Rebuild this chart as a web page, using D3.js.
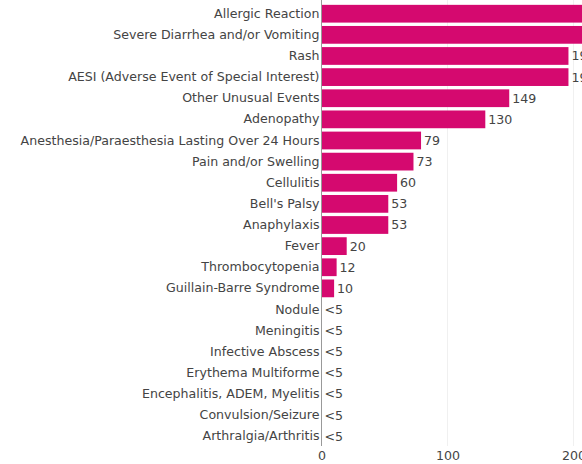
<!DOCTYPE html>
<html>
<head>
<meta charset="utf-8">
<script src="https://cdn.jsdelivr.net/npm/d3@7"></script>
<style>
  body { margin: 0; background: #fff; }
  svg { display: block; font-family: "DejaVu Sans", Verdana, sans-serif; }
</style>
</head>
<body>
<div id="chart"></div>
<script>
// categories, top to bottom
var categories = [
    "Allergic Reaction",
    "Severe Diarrhea and/or Vomiting",
    "Rash",
    "AESI (Adverse Event of Special Interest)",
    "Other Unusual Events",
    "Adenopathy",
    "Anesthesia/Paraesthesia Lasting Over 24 Hours",
    "Pain and/or Swelling",
    "Cellulitis",
    "Bell's Palsy",
    "Anaphylaxis",
    "Fever",
    "Thrombocytopenia",
    "Guillain-Barre Syndrome",
    "Nodule",
    "Meningitis",
    "Infective Abscess",
    "Erythema Multiforme",
    "Encephalitis, ADEM, Myelitis",
    "Convulsion/Seizure",
    "Arthralgia/Arthritis"
];

// counts (null = suppressed, shown as "<5")
var counts = [255, 240, 196, 196, 149, 130, 79, 73, 60, 53, 53, 20, 12, 10,
              null, null, null, null, null, null, null];

var xTicks = [0, 100, 200];

var width = 582, height = 464;
var margin = {top: 4, left: 321.5, bottom: 18};
var fontSize = "12.6px";

var svg = d3.select("#chart").append("svg")
    .attr("width", width)
    .attr("height", height);

var x = d3.scaleLinear()
    .domain([0, 200])
    .range([margin.left, margin.left + 252]);

var y = d3.scaleBand()
    .domain(categories)
    .range([margin.top, height - margin.bottom])
    .paddingInner(0.16)
    .paddingOuter(0.04);

// faint gridlines
svg.append("g")
    .selectAll("line")
    .data(xTicks.slice(1))
    .enter()
    .append("line")
    .attr("x1", function(d) { return x(d); })
    .attr("x2", function(d) { return x(d); })
    .attr("y1", 0)
    .attr("y2", height - margin.bottom)
    .attr("stroke", "#f0f0f0")
    .attr("stroke-width", 1);

var rows = categories.map(function(c, i) { return {name: c, value: counts[i]}; });

svg.append("g")
    .selectAll("rect")
    .data(rows)
    .enter()
    .append("rect")
    .attr("x", x(0))
    .attr("y", function(d) { return y(d.name); })
    .attr("width", function(d) { return x(d.value || 0) - x(0); })
    .attr("height", y.bandwidth())
    .attr("fill", "#d5096f");

svg.append("g")
    .selectAll("text")
    .data(rows)
    .enter()
    .append("text")
    .attr("x", function(d) { return x(d.value || 0) + 3; })
    .attr("y", function(d) { return y(d.name) + y.bandwidth() / 2; })
    .attr("dy", "0.35em")
    .attr("font-size", fontSize)
    .attr("fill", "#444")
    .text(function(d) { return d.value == null ? "<5" : d.value; });

// y axis: category names, no ticks
var yAxis = svg.append("g")
    .attr("transform", "translate(" + x(0) + ",0)")
    .call(d3.axisLeft(y).tickSize(0).tickPadding(2));
yAxis.select(".domain").remove();
yAxis.selectAll("text")
    .attr("font-family", "DejaVu Sans, Verdana, sans-serif")
    .attr("font-size", fontSize)
    .attr("fill", "#444");

// axis baseline
svg.append("line")
    .attr("x1", x(0))
    .attr("x2", x(0))
    .attr("y1", 0)
    .attr("y2", height - margin.bottom)
    .attr("stroke", "#999")
    .attr("stroke-width", 1);

// x axis labels
var xAxis = svg.append("g")
    .attr("transform", "translate(0," + (height - margin.bottom) + ")")
    .call(d3.axisBottom(x).tickValues(xTicks).tickSize(0).tickPadding(5));
xAxis.select(".domain").remove();
xAxis.selectAll("text")
    .attr("font-family", "DejaVu Sans, Verdana, sans-serif")
    .attr("font-size", fontSize)
    .attr("fill", "#444");
</script>
</body>
</html>
